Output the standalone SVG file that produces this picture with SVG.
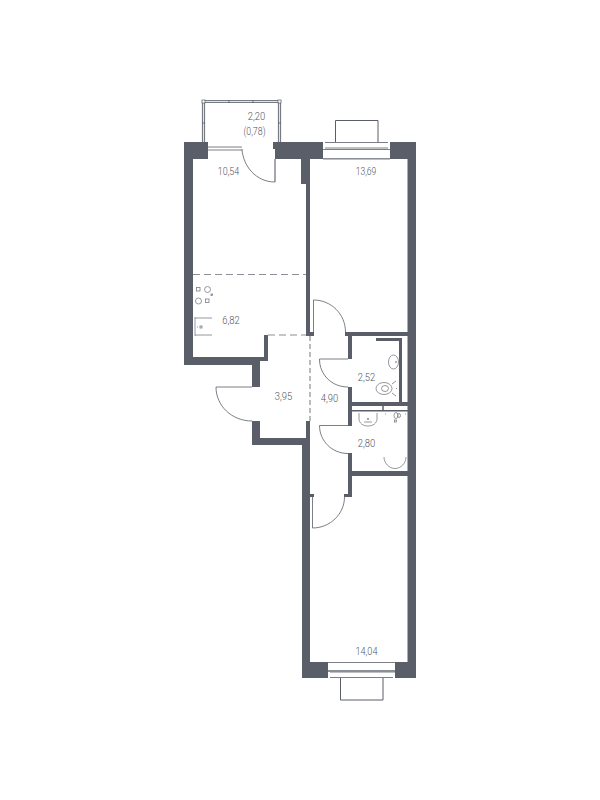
<svg xmlns="http://www.w3.org/2000/svg" width="600" height="800" viewBox="0 0 600 800">
<style>
.w{fill:#5a5e68}
.t{fill:none;stroke:#5a5e68;stroke-width:.8}
.l{fill:none;stroke:#5a5e68;stroke-width:1}
.g{fill:none;stroke:#8b8f96;stroke-width:1.200}
.d{fill:none;stroke:#8b8f96;stroke-width:1}
.f{fill:none;stroke:#7a7e85;stroke-width:.8}
text{font-family:"Roboto","Liberation Sans",sans-serif;font-weight:300;font-size:10px;fill:#4f535c;text-anchor:middle}
</style>
<rect width="600" height="800" fill="#fff"/>
<g id="balcony">
<path d="M203.500 142V101.500H279.500V142" fill="none" stroke="#777b83" stroke-width="3.200"/>
<path d="M203.500 142V101.500H279.500V142" fill="none" stroke="#fff" stroke-width=".8"/>
<path class="t" d="M229 100V103M253 100V103M202 123H205M278 123H281"/>
<rect x="202" y="100" width="3" height="3" fill="#fff" stroke="#5a5e68" stroke-width=".7"/>
<rect x="278" y="100" width="3" height="3" fill="#fff" stroke="#5a5e68" stroke-width=".7"/>
</g>
<g id="walls">
<path class="w" d="M184 142H208V159H193V357H264V335H268V361H260V387H252V365H184Z"/>
<path class="w" d="M273 142H323V159H310V332H314V336H306V184H301V159H275V149H273Z"/>
<path class="w" d="M390 142H416V678H395V662H407.500V159H390Z"/>
<rect class="w" x="345" y="332" width="63" height="4"/>
<rect class="w" x="348" y="332" width="4" height="27"/>
<rect class="w" x="348" y="387" width="4" height="39"/>
<rect class="w" x="348" y="453" width="4" height="44"/>
<rect class="w" x="344" y="494" width="8" height="3"/>
<rect class="w" x="352" y="471" width="56" height="5"/>
<rect class="w" x="352" y="402" width="56" height="4"/>
<rect class="w" x="352" y="410" width="56" height="1.500"/>
<rect class="w" x="376" y="338" width="26" height="3"/>
<rect class="w" x="399" y="338" width="3" height="64"/>
<path class="w" d="M252 421H260V438H306V421H310V662H302V445H252Z"/>
<rect class="w" x="310" y="494" width="4" height="3"/>
<path class="w" d="M302 662H328V678H302Z"/>
</g>
<g id="windows">
<path class="t" d="M208 147H242M208 150H242"/>
<path class="t" d="M325 142.500H388M325 148H388M323 149.500H390M323 159H390"/>
<path class="d" d="M323 158.500H390"/>
<path class="l" d="M335.500 142V120.500H378V142"/>
<path class="t" d="M328 662.500H395M330 672H395M330 677.500H393"/>
<path d="M328 671H395" stroke="#8b8f96" stroke-width="2"/>
<path class="l" d="M340.500 678V700H383V678"/>
<path d="M383 406V410" stroke="#5a5e68" stroke-width="1.500"/>
</g>
<g id="doors">
<path class="t" d="M242 149C243 166 256 182 275 182V159"/>
<path d="M275 159V182" stroke="#8b8f96" stroke-width="1"/>
<path class="t" d="M313.500 332V300C331 300 345.500 314 345.500 332"/>
<path class="t" d="M348 359H319.500C319.500 375 332 387 348 387"/>
<path class="t" d="M348 425.500H319.500C319.500 441 332 453.500 348 453.500"/>
<path class="t" d="M252 387H216C216 406 232 421 252 421"/>
<path class="t" d="M312.500 497V528C330 528 344.500 514 344.500 497"/>
</g>
<g id="zones">
<path class="g" stroke-dasharray="7 4" d="M193 274.500H306"/>
<path class="g" stroke-dasharray="7 4" d="M268 335H306"/>
<path class="g" stroke-dasharray="5 3" d="M310 336V421"/>
</g>
<g id="fixtures">
<rect class="f" x="196.500" y="287.500" width="3.500" height="3.500"/>
<circle class="f" cx="207.500" cy="289.500" r="3"/>
<circle class="f" cx="198.500" cy="301" r="3"/>
<rect class="f" x="205.500" y="299" width="3.500" height="3.500"/>
<rect class="f" x="211" y="294" width="1.500" height="1.500"/>
<path class="f" d="M195 317V336M195 318H212M195 335H212M197 327H198"/>
<rect class="f" x="200" y="326" width="2" height="2"/>
<ellipse class="f" cx="393.500" cy="362" rx="5" ry="7"/>
<circle class="f" cx="396" cy="362" r=".6"/>
<ellipse class="f" cx="384" cy="388.500" rx="8" ry="6"/>
<ellipse class="f" cx="385" cy="388.500" rx="3.500" ry="3"/>
<path class="f" d="M392 384L396 381M392 393L396 396M396 388.500H397"/>
<path class="f" d="M359 413V419C359 423 363 426 368 426C373 426 377 423 377 419V413"/>
<circle class="f" cx="368" cy="419" r=".8"/>
<path class="f" d="M364 422H372M385 414H386M405 414H406"/>
<ellipse class="f" cx="396" cy="415.500" rx="2" ry="3"/>
<ellipse class="f" cx="399" cy="415.500" rx="1.500" ry="2"/>
<rect class="f" x="394.500" y="420" width="2" height="2"/>
<path class="f" d="M384 457C384 463 389 468.500 395 468.500C401 468.500 406 463 406 457"/>
</g>
<g id="labels" opacity=".99">
<text x="256.500" y="120" textLength="17.500" lengthAdjust="spacingAndGlyphs">2,20</text>
<text x="254.500" y="135" textLength="22" lengthAdjust="spacingAndGlyphs">(0,78)</text>
<text x="228.500" y="175" textLength="21.500" lengthAdjust="spacingAndGlyphs">10,54</text>
<text x="366" y="175" textLength="20.500" lengthAdjust="spacingAndGlyphs">13,69</text>
<text x="231" y="324" textLength="17.500" lengthAdjust="spacingAndGlyphs">6,82</text>
<text x="366.500" y="381" textLength="17.500" lengthAdjust="spacingAndGlyphs">2,52</text>
<text x="283.500" y="400" textLength="17.500" lengthAdjust="spacingAndGlyphs">3,95</text>
<text x="329.500" y="402" textLength="17.500" lengthAdjust="spacingAndGlyphs">4,90</text>
<text x="366.500" y="447" textLength="17.500" lengthAdjust="spacingAndGlyphs">2,80</text>
<text x="366.500" y="654.500" textLength="22" lengthAdjust="spacingAndGlyphs">14,04</text>
</g>
</svg>
